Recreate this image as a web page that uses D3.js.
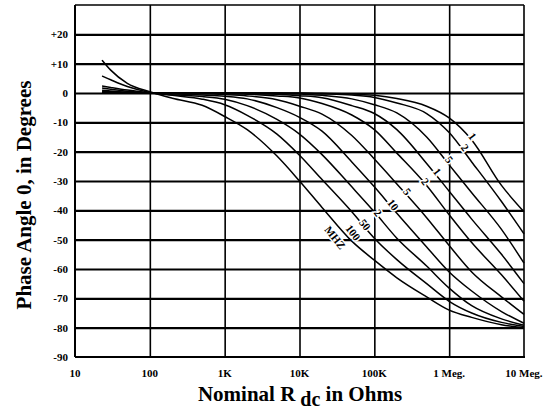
<!DOCTYPE html>
<html><head><meta charset="utf-8">
<script src="https://cdn.jsdelivr.net/npm/d3@7"></script>
<style>
body{margin:0;background:#fff;}
svg{display:block;}
text{font-family:"Liberation Serif","Times New Roman",serif;font-weight:bold;fill:#000;}
</style></head><body>
<svg id="chart" width="556" height="409"></svg>
<script>
// ---- data ----
const resistance = [23, 30, 50, 100, 200, 500, 1e3, 2e3, 5e3, 1e4, 2e4, 5e4, 1e5, 2e5, 5e5, 1e6, 2e6, 5e6, 1e7];
const frequencies = ["0.1", "0.2", "0.5", "1", "2", "5", "10", "20", "50", "100"];
const phase_0_1 = [0, 0, 0, 0, 0, 0, 0, 0, 0, 0, -0.1, -0.3, -0.8, -1.9, -4.5, -8.5, -16, -31.5, -40.5];
const phase_0_2 = [0, 0, 0, 0, 0, 0, 0, 0, 0, -0.1, -0.3, -0.7, -1.5, -3.4, -7, -13.5, -23.5, -37, -48];
const phase_0_5 = [0.1, 0, 0, 0, 0, 0, 0, -0.1, -0.2, -0.3, -0.8, -2.0, -4.0, -6.8, -15, -24.5, -34, -46.5, -58];
const phase_1 = [0.3, 0.2, 0.1, 0, 0, 0, -0.1, -0.2, -0.4, -0.9, -1.6, -4.3, -7, -12.5, -24, -33.5, -43, -55, -65];
const phase_2 = [0.5, 0.4, 0.2, 0, 0, -0.1, -0.2, -0.4, -1.0, -1.7, -3.6, -7.5, -12.5, -20.5, -31.5, -41.5, -51, -62, -71];
const phase_5 = [0.9, 0.7, 0.3, 0, -0.1, -0.25, -0.55, -1.0, -2.3, -4.5, -7.2, -14.5, -22.5, -31, -42.5, -52, -61, -69.5, -75.5];
const phase_10 = [1.7, 1.3, 0.6, 0, -0.25, -0.65, -1.1, -2.0, -5.0, -8.3, -13, -23.5, -32, -41, -52.5, -61, -67.5, -74.5, -78.5];
const phase_20 = [2.4, 1.9, 1.0, 0.1, -0.6, -1.2, -2.1, -4.3, -9.0, -14, -21, -32, -40.5, -49.5, -59, -66.5, -72.5, -77, -79.2];
const phase_50 = [5.8, 4.5, 2.2, 0.2, -0.8, -2.1, -4.0, -7.6, -14.0, -21.2, -29.5, -40.5, -49.5, -56.8, -65, -71, -75, -78.2, -79.6];
const phase_100 = [11.2, 7.8, 3.3, 0.4, -1.8, -4.2, -8, -12.5, -21.5, -30, -39, -50.5, -57, -63, -69.5, -74, -76.5, -79, -80];

const curveLabels = ["1", "2", "5", "1", "2", "5", "10", "2", "50", "100"];
const labelR = [2.05e6, 1.63e6, 1.0e6, 6.92e5, 4.78e5, 2.75e5, 1.78e5, 1.12e5, 7.5e4, 5.2e4];
const labelPhase = [-14.8, -18.6, -22.7, -26.8, -30.2, -33.6, -38.1, -40.8, -44.9, -47.6];
const unitText = "MHZ";
const unitR = 3.0e4;
const unitPhase = -49.3;

const xTickValues = [10, 100, 1e3, 1e4, 1e5, 1e6, 1e7];
const xTickLabels = ["10", "100", "1K", "10K", "100K", "1 Meg.", "10 Meg."];
const yTickValues = [20, 10, 0, -10, -20, -30, -40, -50, -60, -70, -80, -90];
const yTickLabels = ["+20", "+10", "0", "-10", "-20", "-30", "-40", "-50", "-60", "-70", "-80", "-90"];

// ---- drawing ----
const series = [phase_0_1, phase_0_2, phase_0_5, phase_1, phase_2, phase_5, phase_10, phase_20, phase_50, phase_100];
const svg = d3.select("#chart");
const L = 75, R = 524, T = 5, B = 357;
const x = d3.scaleLog().domain([10, 1e7]).range([L, R]);
const y = d3.scaleLinear().domain([-90, 30]).range([B, T]);

// horizontal grid
svg.append("g").attr("transform", `translate(${L},0)`)
  .call(d3.axisLeft(y).tickValues(d3.range(-80, 30, 10)).tickSize(-(R - L)).tickFormat(""))
  .call(g => g.select(".domain").remove())
  .call(g => g.selectAll("line").attr("stroke", "#000").attr("stroke-width", 2.2));
// vertical grid
svg.append("g").attr("transform", `translate(0,${B})`)
  .call(d3.axisBottom(x).tickValues([100, 1e3, 1e4, 1e5, 1e6]).tickSize(-(B - T)).tickFormat(""))
  .call(g => g.select(".domain").remove())
  .call(g => g.selectAll("line").attr("stroke", "#000").attr("stroke-width", 1.6));

// frame
svg.append("line").attr("x1", L).attr("x2", R).attr("y1", T).attr("y2", T).attr("stroke", "#000").attr("stroke-width", 1.6);
svg.append("line").attr("x1", L).attr("x2", R + 1).attr("y1", B).attr("y2", B).attr("stroke", "#000").attr("stroke-width", 2);
svg.append("line").attr("x1", L).attr("x2", L).attr("y1", T).attr("y2", B).attr("stroke", "#000").attr("stroke-width", 2);
svg.append("line").attr("x1", R).attr("x2", R).attr("y1", T).attr("y2", B).attr("stroke", "#000").attr("stroke-width", 1.6);

// curves
const line = d3.line().x((d, i) => x(resistance[i])).y(d => y(d)).curve(d3.curveMonotoneX);
svg.append("g").selectAll("path").data(series).join("path")
  .attr("d", d => line(d)).attr("fill", "none").attr("stroke", "#000").attr("stroke-width", 1.5);

// curve labels
const lab = svg.append("g");
lab.selectAll("text").data(curveLabels).join("text")
  .attr("transform", (d, i) => `translate(${x(labelR[i])},${y(labelPhase[i])}) rotate(52)`)
  .attr("text-anchor", "middle").attr("dy", "0.35em")
  .attr("font-size", 11)
  .attr("stroke", "#fff").attr("stroke-width", 3).attr("paint-order", "stroke")
  .text(d => d);
lab.append("text")
  .attr("transform", `translate(${x(unitR)},${y(unitPhase)}) rotate(52)`)
  .attr("text-anchor", "middle").attr("dy", "0.35em").attr("font-size", 11)
  .attr("stroke", "#fff").attr("stroke-width", 3).attr("paint-order", "stroke")
  .text(unitText);

// tick labels
svg.append("g").selectAll("text").data(xTickValues).join("text")
  .attr("x", d => x(d)).attr("y", 377).attr("text-anchor", "middle").attr("font-size", 11)
  .text((d, i) => xTickLabels[i]);
svg.append("g").selectAll("text").data(yTickValues).join("text")
  .attr("x", 68).attr("y", d => y(d)).attr("dy", "0.35em").attr("text-anchor", "end").attr("font-size", 11)
  .text((d, i) => yTickLabels[i]);

// axis titles
const xt = svg.append("text").attr("x", 300).attr("y", 401).attr("text-anchor", "middle").attr("font-size", 21);
xt.append("tspan").text("Nominal R");
xt.append("tspan").attr("dy", 5).attr("font-size", 20).text(" dc");
xt.append("tspan").attr("dy", -5).text(" in Ohms");
svg.append("text").attr("transform", "translate(31,195) rotate(-90)").attr("text-anchor", "middle")
  .attr("font-size", 21).text("Phase Angle 0, in Degrees");
</script>
</body></html>
